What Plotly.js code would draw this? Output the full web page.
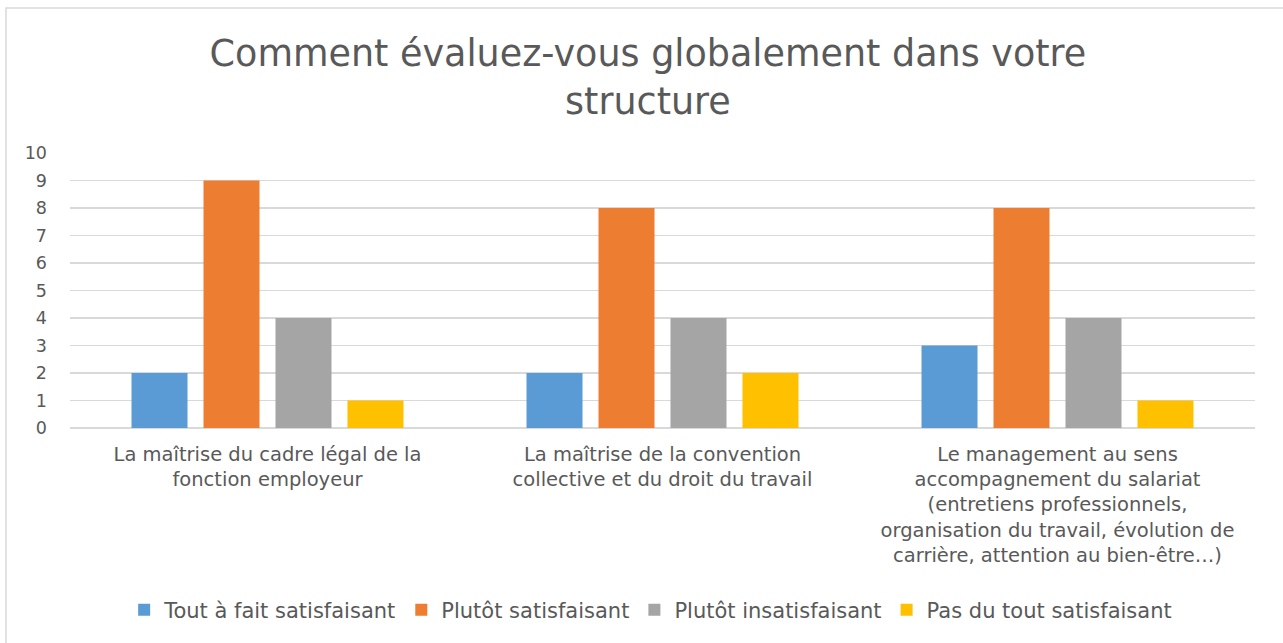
<!DOCTYPE html>
<html><head><meta charset="utf-8">
<script src="https://cdn.plot.ly/plotly-3.0.1.min.js"></script>
<style>html,body{margin:0;padding:0;background:#fff;}#chart{width:1283px;height:643px;}</style>
</head><body><div id="chart"></div>
<script>
const categories = [
  "La maîtrise du cadre légal de la<br>fonction employeur",
  "La maîtrise de la convention<br>collective et du droit du travail",
  "Le management au sens<br>accompagnement du salariat<br>(entretiens professionnels,<br>organisation du travail, évolution de<br>carrière, attention au bien-être…)"
];
const seriesNames = ["Tout à fait satisfaisant", "Plutôt satisfaisant", "Plutôt insatisfaisant", "Pas du tout satisfaisant"];
const toutAFait = [2, 2, 3];
const plutotSatisfaisant = [9, 8, 8];
const plutotInsatisfaisant = [4, 4, 4];
const pasDuTout = [1, 2, 1];
const yTicks = [0,1,2,3,4,5,6,7,8,9,10];

const colors = ["#5B9BD5", "#ED7D31", "#A5A5A5", "#FFC000"];
const values = [toutAFait, plutotSatisfaisant, plutotInsatisfaisant, pasDuTout];
const font = "DejaVu Sans, sans-serif";

const traces = values.map((v, i) => ({
  type: "bar", x: categories, y: v, name: seriesNames[i],
  marker: {color: colors[i], line: {width: 0}}, hoverinfo: "y"
}));

const layout = {
  width: 1283, height: 643,
  margin: {l: 70, r: 28, t: 153, b: 215},
  paper_bgcolor: "#fff", plot_bgcolor: "#fff",
  font: {family: font, color: "#595959"},
  title: {text: "Comment évaluez-vous globalement dans votre<br>structure", font: {size: 36.5, color: "#595959", family: font},
          x: 0.505, xanchor: "center", y: 0.897, yanchor: "middle", yref: "container"},
  barmode: "group", bargap: 0.271, bargroupgap: 0.222,
  xaxis: {tickfont: {size: 19.5, color: "#595959"}, showline: false, ticks: "", ticklabelstandoff: 12, fixedrange: true},
  yaxis: {range: [0, 10], tickvals: yTicks, ticktext: yTicks.map(String), showgrid: true, gridcolor: "#D9D9D9", gridwidth: 1.3,
          zeroline: true, zerolinecolor: "#D9D9D9", zerolinewidth: 1.3,
          tickfont: {size: 17.5, color: "#595959"}, ticks: "", ticklabelstandoff: 22, fixedrange: true},
  legend: {orientation: "h", x: 0.49, xanchor: "center", y: -0.662, yanchor: "middle",
           font: {size: 21, color: "#595959"}, itemwidth: 30, traceorder: "normal"},
  shapes: [{type: "rect", xref: "paper", yref: "paper", x0: -0.054, x1: 1.03, y0: -0.807, y1: 1.527,
            line: {color: "#D9D9D9", width: 1.5}, fillcolor: "rgba(0,0,0,0)", layer: "below"}],
  showlegend: true
};
Plotly.newPlot("chart", traces, layout, {displayModeBar: false, staticPlot: true});
</script></body></html>
